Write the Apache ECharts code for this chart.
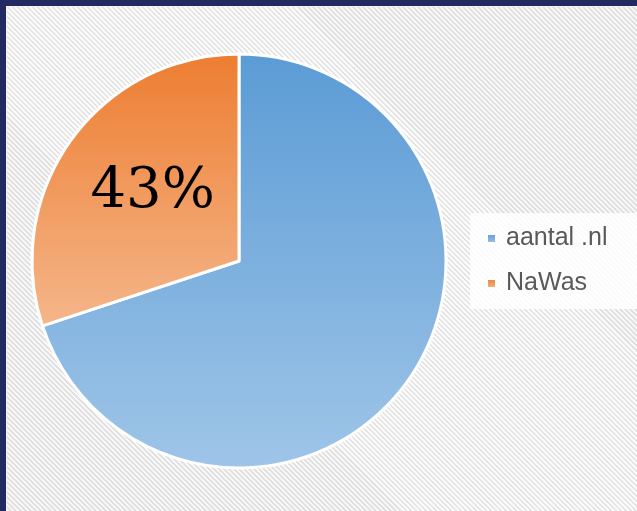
<!DOCTYPE html>
<html>
<head>
<meta charset="utf-8">
<script src="https://cdn.jsdelivr.net/npm/echarts@6/dist/echarts.min.js"></script>
<style>
  html, body { margin: 0; padding: 0; }
  #frame {
    position: relative; width: 637px; height: 511px; background: #212b62; overflow: hidden;
  }
  #paper {
    position: absolute; left: 6px; top: 6px; right: 0; bottom: 0;
    border-left: 1px solid #f4f4f4; border-top: 1px solid #f4f4f4;
    background: repeating-linear-gradient(45deg, #fbfbfb 0px, #fbfbfb 1.77px, #e2e2e2 1.77px, #e2e2e2 3.54px);
  }
  #main { position: absolute; left: 0; top: 0; width: 637px; height: 511px; }
</style>
</head>
<body>
<div id="frame">
  <div id="paper"></div>
  <div id="main"></div>
</div>
<script>
const categories = ['aantal .nl', 'NaWas'];
const values = [100, 43];
const labelShown = [false, true];

const grads = [
    ['#5b9bd5', '#9fc5e8'],
    ['#ed7d31', '#f5b68a']
];

let chart = echarts.init(document.getElementById('main'));

let data = categories.map((name, i) => {
    return {
        name: name,
        value: values[i],
        itemStyle: {
            color: new echarts.graphic.LinearGradient(0, 0, 0, 1, [
                {offset: 0, color: grads[i][0]},
                {offset: 1, color: grads[i][1]}
            ])
        },
        label: {show: labelShown[i]}
    };
});

let option = {
    animation: false,
    legend: {
        orient: 'vertical',
        left: 470,
        top: 213,
        padding: [13, 30, 13, 16],
        backgroundColor: 'rgba(255,255,255,0.85)',
        itemWidth: 9,
        itemHeight: 9,
        itemGap: 20,
        icon: 'rect',
        textStyle: {
            fontFamily: 'Liberation Sans, Arial',
            fontSize: 25,
            color: '#595959',
            padding: [0, 0, 0, 5]
        },
        data: categories
    },
    series: [
        {
            type: 'pie',
            center: [239, 261],
            radius: [0, 207],
            startAngle: 90,
            clockwise: true,
            label: {
                position: 'inside',
                formatter: (p) => p.value + '%',
                fontFamily: 'DejaVu Serif, Liberation Serif',
                fontSize: 56,
                color: '#000000',
                offset: [0, -6]
            },
            labelLine: {show: false},
            itemStyle: {
                borderColor: '#ffffff',
                borderWidth: 3
            },
            emphasis: {disabled: true},
            data: data
        }
    ]
};

chart.setOption(option);
</script>
</body>
</html>
